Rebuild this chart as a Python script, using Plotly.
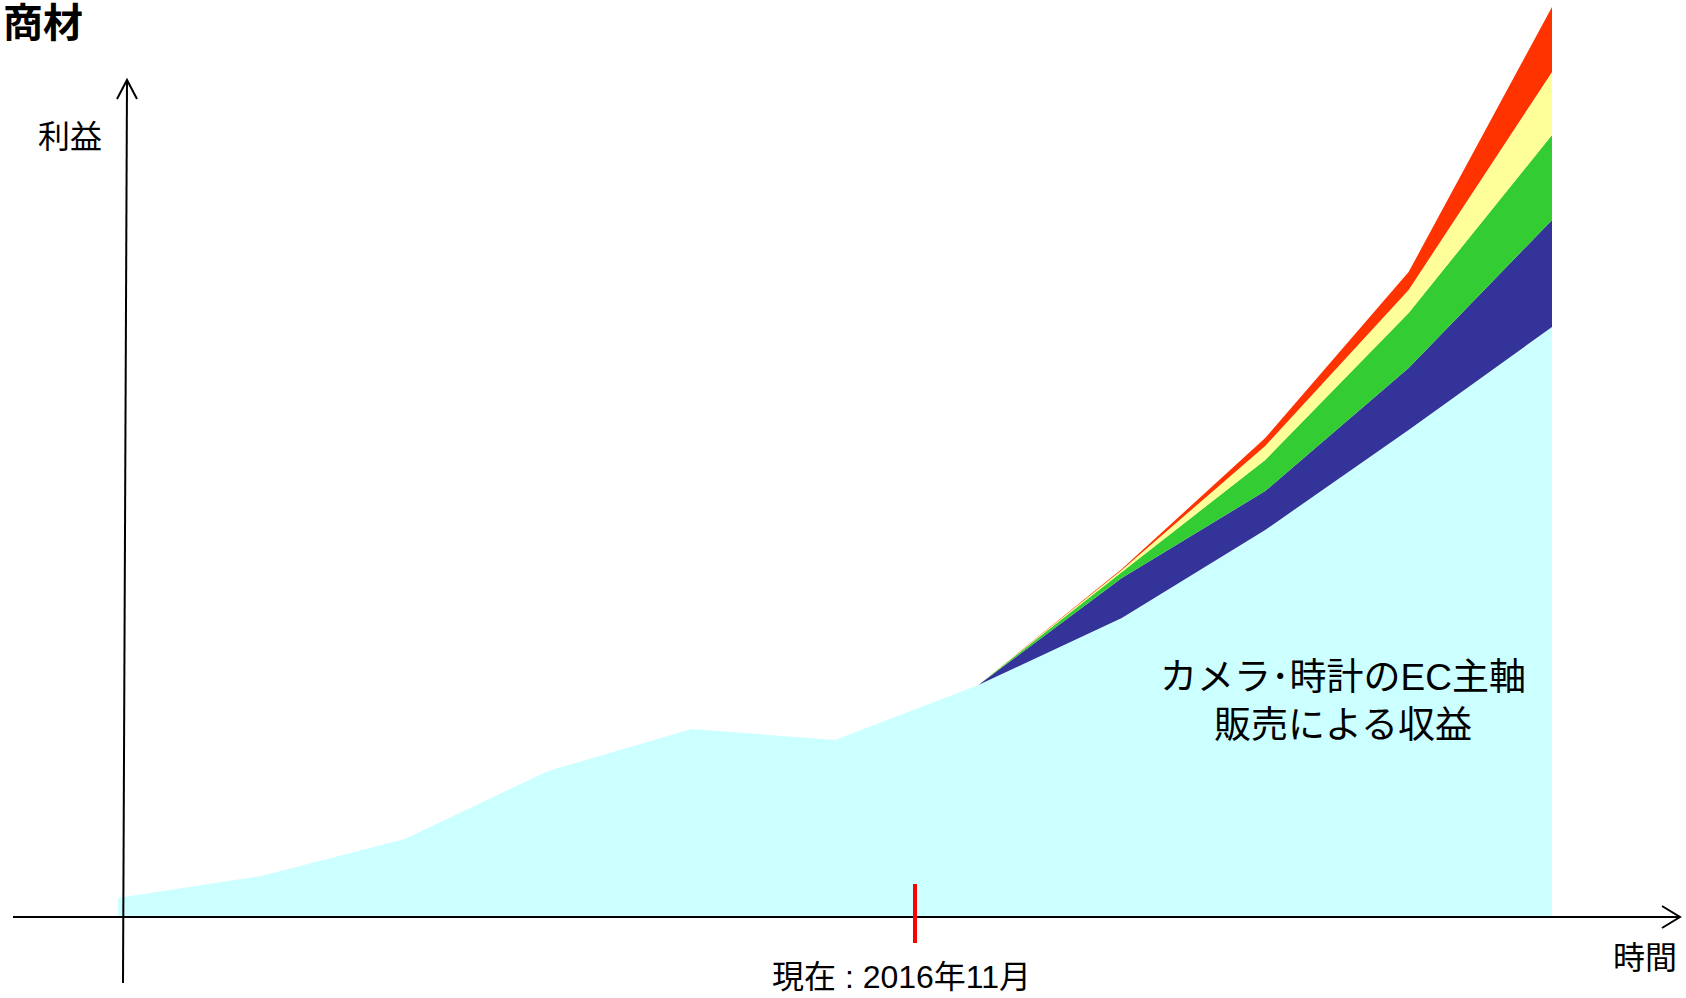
import plotly.graph_objects as go

# Time steps along the horizontal axis
periods = list(range(11))

# Profit layers (stacked), from the base business upward
ec_camera_watch = [19, 41, 78, 146, 188, 177, 232, 299, 387, 487, 590]
layer_navy = [0, 0, 0, 0, 0, 0, 0, 40, 39, 62, 107]
layer_green = [0, 0, 0, 0, 0, 0, 0, 6, 31, 55, 85]
layer_yellow = [0, 0, 0, 0, 0, 0, 0, 2, 14, 23, 63]
layer_red = [0, 0, 0, 0, 0, 0, 0, 1, 8, 18, 65]

layers = [
    ("EC", ec_camera_watch, "#CCFFFF"),
    ("navy", layer_navy, "#333399"),
    ("green", layer_green, "#33CC33"),
    ("yellow", layer_yellow, "#FFFF99"),
    ("red", layer_red, "#FF3300"),
]

W, H = 1686, 998
FONT = "Liberation Sans, Noto Sans CJK JP, sans-serif"


def px(x):
    return x / W


def py(y):
    return 1 - y / H


fig = go.Figure()
for name, vals, color in layers:
    fig.add_trace(go.Scatter(
        x=periods, y=vals, name=name, mode="lines",
        stackgroup="profit", line=dict(width=0, shape="linear"),
        fillcolor=color, hoverinfo="skip", showlegend=False,
    ))

line = dict(color="black", width=2)
shapes = [
    # horizontal time axis with open arrowhead
    dict(type="line", xref="paper", yref="paper",
         x0=px(13), y0=py(917), x1=px(1680), y1=py(917), line=line),
    dict(type="path", xref="paper", yref="paper",
         path=f"M {px(1662)},{py(906)} L {px(1680)},{py(917)} L {px(1662)},{py(928)}",
         line=line),
    # vertical profit axis with open arrowhead
    dict(type="line", xref="paper", yref="paper",
         x0=px(123), y0=py(983), x1=px(127), y1=py(81), line=line),
    dict(type="path", xref="paper", yref="paper",
         path=f"M {px(117)},{py(99)} L {px(127)},{py(80)} L {px(137)},{py(99)}",
         line=line),
    # current-date marker
    dict(type="line", xref="paper", yref="paper",
         x0=px(915), y0=py(884), x1=px(915), y1=py(943),
         line=dict(color="#FF0000", width=4)),
]

annotations = [
    dict(text="<b>商材</b>", x=px(2), y=py(0), xanchor="left", yanchor="top",
         font=dict(family=FONT, size=40, color="black")),
    dict(text="利益", x=px(70), y=py(137), xanchor="center", yanchor="middle",
         font=dict(family=FONT, size=32, color="black")),
    dict(text="時間", x=px(1645), y=py(958), xanchor="center", yanchor="middle",
         font=dict(family=FONT, size=32, color="black")),
    dict(text="現在 : 2016年11月", x=px(901), y=py(977), xanchor="center", yanchor="middle",
         font=dict(family=FONT, size=32, color="black")),
    dict(text="カメラ･時計のEC主軸<br>販売による収益", x=px(1343), y=py(701),
         xanchor="center", yanchor="middle", align="center",
         font=dict(family=FONT, size=37, color="black")),
]
for a in annotations:
    a.update(xref="paper", yref="paper", showarrow=False, borderpad=0)

step = 143.4
x0 = 118
fig.update_layout(
    width=W, height=H, autosize=False,
    margin=dict(l=0, r=0, t=0, b=0),
    paper_bgcolor="white", plot_bgcolor="white",
    xaxis=dict(range=[-x0 / step, (W - x0) / step], visible=False, fixedrange=True),
    yaxis=dict(range=[-(H - 917), 917], visible=False, fixedrange=True),
    shapes=shapes, annotations=annotations,
)

fig.write_html("out.html", config={"displayModeBar": False})
